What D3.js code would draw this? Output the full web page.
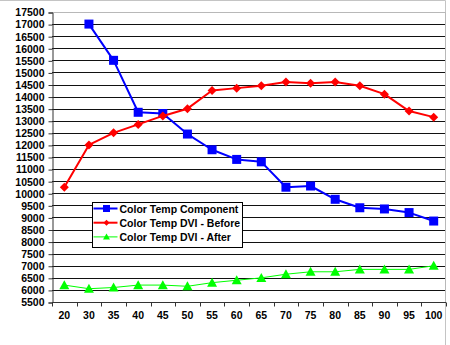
<!DOCTYPE html>
<html>
<head>
<meta charset="utf-8">
<script src="https://cdn.jsdelivr.net/npm/d3@7"></script>
<style>
  html, body { margin: 0; padding: 0; background: #fff; }
  svg { display: block; }
  text { font-family: "Liberation Sans", Arial, sans-serif; font-weight: bold; font-size: 10.5px; fill: #000; }
</style>
</head>
<body>
<svg id="chart" width="450" height="345"></svg>
<script>
// Colour temperature readings per brightness setting
const categories = [20, 30, 35, 40, 45, 50, 55, 60, 65, 70, 75, 80, 85, 90, 95, 100];
const component  = [null, 17000, 15500, 13350, 13300, 12450, 11800, 11400, 11300, 10250, 10300, 9750, 9400, 9350, 9200, 8850];
const dviBefore  = [10250, 12000, 12500, 12850, 13200, 13500, 14250, 14350, 14450, 14600, 14550, 14600, 14450, 14100, 13400, 13150];
const dviAfter   = [6200, 6050, 6100, 6200, 6200, 6150, 6300, 6400, 6500, 6650, 6750, 6750, 6850, 6850, 6850, 7000];
const yTicks = d3.range(5500, 17501, 500);
const seriesNames = ["Color Temp Component", "Color Temp DVI - Before", "Color Temp DVI - After"];

const svg = d3.select("#chart");
const plot = { left: 52, right: 446, top: 12, bottom: 302 };

const x = d3.scaleBand().domain(categories).range([plot.left, plot.right]).padding(0);
const y = d3.scaleLinear().domain([5500, 17500]).range([plot.bottom, plot.top]);

// outer chart frame (top and right edges)
svg.append("path")
  .attr("d", `M0,0.5H445.5V345`)
  .attr("fill", "none").attr("stroke", "#c4c4c4");

// horizontal gridlines
svg.append("g").selectAll("line")
  .data(yTicks.filter(v => v > 5500 && v < 17500))
  .join("line")
  .attr("x1", plot.left).attr("x2", plot.right - 1)
  .attr("y1", d => Math.round(y(d)) + 0.5).attr("y2", d => Math.round(y(d)) + 0.5)
  .attr("stroke", "#111").attr("stroke-width", 1);

// plot-area top and right border
svg.append("path")
  .attr("d", `M${plot.left},${Math.round(y(17500)) + 0.5}H${plot.right - 0.5}V${plot.bottom}`)
  .attr("fill", "none").attr("stroke", "#b8b8b8");

// y axis
const yAxis = d3.axisLeft(y).tickValues(yTicks).tickSize(4).tickPadding(4).tickFormat(d3.format("d"));
const gy = svg.append("g").attr("transform", `translate(${plot.left + 0.5},0.5)`).call(yAxis);
gy.select(".domain").attr("stroke", "#333");
gy.selectAll(".tick line").attr("stroke", "#333");
gy.selectAll("text").attr("font-size", null).attr("font-family", null);

// x axis: ticks at category boundaries
const gx = svg.append("g").attr("transform", `translate(0,${plot.bottom + 0.5})`);
gx.append("line").attr("x1", plot.left).attr("x2", plot.right).attr("stroke", "#333");
gx.selectAll("line.tk")
  .data(d3.range(categories.length + 1))
  .join("line").attr("class", "tk")
  .attr("x1", i => Math.round(plot.left + i * x.bandwidth()) + 0.5)
  .attr("x2", i => Math.round(plot.left + i * x.bandwidth()) + 0.5)
  .attr("y1", 0).attr("y2", 4).attr("stroke", "#333");
gx.selectAll("text")
  .data(categories)
  .join("text")
  .attr("x", d => x(d) + x.bandwidth() / 2)
  .attr("y", 16)
  .attr("text-anchor", "middle")
  .text(d => d);

const cx = d => x(d) + x.bandwidth() / 2;

// marker shapes
function square(g, s) { return g.append("rect").attr("x", -s / 2).attr("y", -s / 2).attr("width", s).attr("height", s); }
function diamond(g, s) { return g.append("path").attr("d", `M0,${-s}L${s},0L0,${s}L${-s},0Z`); }
function triangle(g, w, h) { return g.append("path").attr("d", `M0,${-h * 0.55}L${w / 2},${h * 0.45}L${-w / 2},${h * 0.45}Z`); }

const series = [
  { name: seriesNames[0], values: component, color: "#0000ff", width: 2, marker: g => square(g, 9), legendMarker: g => square(g, 7) },
  { name: seriesNames[1], values: dviBefore, color: "#ff0000", width: 2, marker: g => diamond(g, 4.5), legendMarker: g => diamond(g, 3) },
  { name: seriesNames[2], values: dviAfter, color: "#00ff00", width: 1, marker: g => triangle(g, 10, 9), legendMarker: g => triangle(g, 7, 6) }
];

series.forEach(s => {
  const pts = categories.map((c, i) => ({ c, v: s.values[i] })).filter(p => p.v != null);
  svg.append("path")
    .datum(pts)
    .attr("fill", "none")
    .attr("stroke", s.color)
    .attr("stroke-width", s.width)
    .attr("stroke-linejoin", "round")
    .attr("d", d3.line().x(p => cx(p.c)).y(p => y(p.v)));
  pts.forEach(p => {
    const g = svg.append("g").attr("transform", `translate(${cx(p.c)},${y(p.v)})`);
    s.marker(g).attr("fill", s.color);
  });
});

// legend
const lg = svg.append("g").attr("transform", "translate(92.5,202.5)");
lg.append("rect").attr("width", 150).attr("height", 45).attr("fill", "#fff").attr("stroke", "#000");
series.forEach((s, i) => {
  const row = lg.append("g").attr("transform", `translate(0,${6 + i * 14.2})`);
  row.append("line").attr("x1", 1).attr("x2", 25).attr("stroke", s.color).attr("stroke-width", s.width);
  s.legendMarker(row.append("g").attr("transform", "translate(14,0)")).attr("fill", s.color);
  row.append("text").attr("x", 27).attr("y", 4).text(s.name);
});
</script>
</body>
</html>
